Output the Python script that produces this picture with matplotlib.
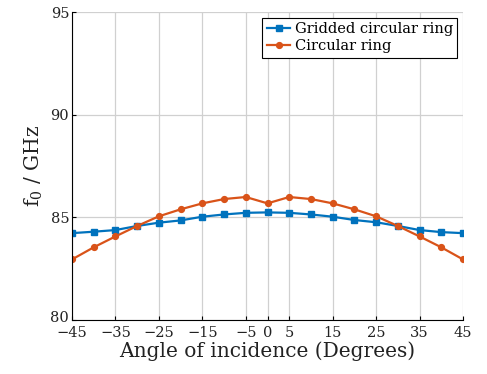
import matplotlib
matplotlib.use('Agg')
import matplotlib.pyplot as plt
from matplotlib.transforms import ScaledTranslation

# ----- DATA ----------------------------------------------------------------------
angles = [-45, -40, -35, -30, -25, -20, -15, -10, -5, 0, 5, 10, 15, 20, 25, 30, 35, 40, 45]
gridded = [84.23, 84.30, 84.38, 84.58, 84.74, 84.85, 85.03, 85.14, 85.22, 85.24,
           85.22, 85.14, 85.03, 84.87, 84.76, 84.58, 84.38, 84.28, 84.23]
circular = [82.95, 83.54, 84.07, 84.58, 85.05, 85.39, 85.68, 85.89, 85.99, 85.68,
            85.99, 85.89, 85.68, 85.39, 85.05, 84.58, 84.07, 83.54, 82.95]
xticks = [-45, -35, -25, -15, -5, 0, 5, 15, 25, 35, 45]
yticks = [80, 85, 90, 95]

# ----- PLOT ----------------------------------------------------------------------
plt.rcParams['font.family'] = 'DejaVu Serif'
plt.rcParams['mathtext.fontset'] = 'dejavuserif'

fig = plt.figure(figsize=(4.87, 3.74), dpi=100)
ax = fig.add_axes([72/487, 1 - 320/374, (463-72)/487, (320-12)/374])

ax.plot(angles, gridded, '-s', color='#0072BD', lw=1.6, ms=4.2, label='Gridded circular ring')
ax.plot(angles, circular, '-o', color='#D95319', lw=1.6, ms=4.2, label='Circular ring')

ax.set_xlim(-45, 45)
ax.set_ylim(80, 95)
ax.set_xticks(xticks)
ax.set_yticks(yticks)
ax.grid(True, color='#d0d0d0', lw=0.9)
ax.set_axisbelow(True)
for s in ['top', 'right']:
    ax.spines[s].set_visible(False)
ax.tick_params(direction='in', length=3, labelsize=10.5, labelcolor='#222222')
ax.tick_params(axis='x', pad=4)
ax.tick_params(axis='y', pad=2)

# nudge the bottom y label up so it clears the first x label
lab80 = ax.get_yticklabels()[0]
lab80.set_transform(lab80.get_transform() + ScaledTranslation(0, 4/100, fig.dpi_scale_trans))

ax.set_xlabel('Angle of incidence (Degrees)', fontsize=14.5, labelpad=1, color='#222222')
ax.set_ylabel('f$_0$ / GHz', fontsize=14.5, labelpad=4, color='#222222')

leg = ax.legend(loc='upper right', fontsize=10.5, fancybox=False, framealpha=1,
                edgecolor='black', handlelength=1.6, handletextpad=0.3,
                borderpad=0.3, labelspacing=0.2, borderaxespad=0.4)
leg.get_frame().set_linewidth(0.8)

plt.savefig('out.png', dpi=100)
